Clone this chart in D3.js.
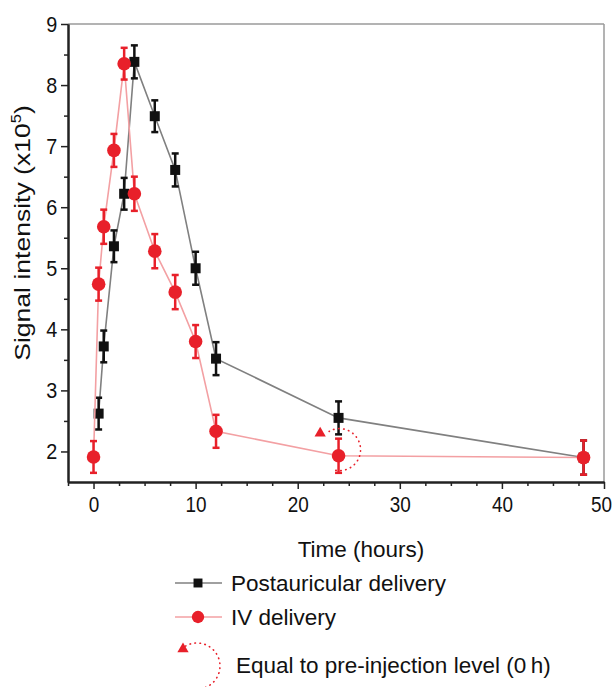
<!DOCTYPE html>
<html>
<head>
<meta charset="utf-8">
<script src="https://cdn.jsdelivr.net/npm/d3@7"></script>
<style>
    html, body { margin: 0; padding: 0; background: #fff; }
    svg { display: block; font-family: "Liberation Sans", Arial, sans-serif; }
    .tick text { fill: #111; }
</style>
</head>
<body>
<div id="chart"></div>
<script>
// time points (hours)
var postTimes = [0.5, 1, 2, 3, 4, 6, 8, 10, 12, 24, 48],
    postValues = [2.62, 3.72, 5.36, 6.22, 8.38, 7.49, 6.61, 5.0, 3.52, 2.55, 1.9],
    postErrors = [0.26, 0.26, 0.26, 0.26, 0.27, 0.26, 0.27, 0.27, 0.27, 0.27, 0.28];

var ivTimes = [0, 0.5, 1, 2, 3, 4, 6, 8, 10, 12, 24, 48],
    ivValues = [1.91, 4.74, 5.68, 6.93, 8.35, 6.22, 5.28, 4.61, 3.8, 2.33, 1.93, 1.9],
    ivErrors = [0.26, 0.27, 0.28, 0.27, 0.26, 0.28, 0.28, 0.28, 0.27, 0.27, 0.28, 0.28];

var xMajorTicks = [0, 10, 20, 30, 40, 50],
    xMinorTicks = [-2.5, 2.5, 5, 7.5, 12.5, 15, 17.5, 22.5, 25, 27.5, 32.5, 35, 37.5, 42.5, 45, 47.5],
    yMajorTicks = [2, 3, 4, 5, 6, 7, 8, 9],
    yMinorTicks = [2.5, 3.5, 4.5, 5.5, 6.5, 7.5, 8.5];

// annotation: point at 24 h equal to pre-injection level
var noteMarker = {x: 22.2, y: 2.3},
    noteCircle = {x: 24.1, y: 2.03};

var legendItems = ['Postauricular delivery', 'IV delivery'],
    noteLabel = 'Equal to pre-injection level (0\u2009h)';

var W = 614, H = 687,
    red = '#e8202a';

var svg = d3.select('#chart').append('svg')
    .attr('width', W)
    .attr('height', H);

var x = d3.scaleLinear().domain([-2.5, 50]).range([68, 604]),
    y = d3.scaleLinear().domain([1.5, 9]).range([482, 24]);

var zip = function(ts, vs, es) {
    return ts.map(function(t, i) { return {t: t, v: vs[i], e: es[i]}; });
};
var post = zip(postTimes, postValues, postErrors),
    iv = zip(ivTimes, ivValues, ivErrors);

// frame (top and right in grey)
svg.append('line')
    .attr('x1', x(-2.5)).attr('x2', x(50))
    .attr('y1', y(9)).attr('y2', y(9))
    .attr('stroke', '#9a9a9a').attr('stroke-width', 1.5);
svg.append('line')
    .attr('x1', x(50)).attr('x2', x(50))
    .attr('y1', y(9)).attr('y2', y(1.5))
    .attr('stroke', '#9a9a9a').attr('stroke-width', 1.5);

// axes
var xx = svg.append('g')
    .attr('transform', 'translate(0,' + y(1.5) + ')')
    .call(d3.axisBottom(x).tickValues(xMajorTicks).tickSize(7).tickSizeOuter(0).tickPadding(7));
svg.append('g')
    .attr('transform', 'translate(0,' + y(1.5) + ')')
    .call(d3.axisBottom(x).tickValues(xMinorTicks).tickSize(4).tickSizeOuter(0).tickFormat(''));
var yy = svg.append('g')
    .attr('transform', 'translate(' + x(-2.5) + ',0)')
    .call(d3.axisLeft(y).tickValues(yMajorTicks).tickSize(7).tickSizeOuter(0).tickPadding(5));
svg.append('g')
    .attr('transform', 'translate(' + x(-2.5) + ',0)')
    .call(d3.axisLeft(y).tickValues(yMinorTicks).tickSize(4).tickSizeOuter(0).tickFormat(''));

svg.selectAll('.domain').attr('stroke', '#222').attr('stroke-width', 2);
svg.selectAll('.tick line').attr('stroke', '#222').attr('stroke-width', 1.5);
// the original uses a narrow face for the tick numbers
xx.selectAll('text')
    .style('font-size', '22px')
    .attr('transform', function(d) { return d === 50 ? 'translate(-3,0) scale(0.86,1)' : 'scale(0.86,1)'; });
yy.selectAll('text')
    .style('font-size', '22px')
    .attr('transform', 'scale(0.9,1)');

// axis titles
svg.append('text')
    .attr('x', 361)
    .attr('y', 557)
    .attr('text-anchor', 'middle')
    .style('font-size', '22.5px')
    .attr('fill', '#111')
    .text('Time (hours)');

var yt = svg.append('text')
    .attr('transform', 'translate(30,233) rotate(-90) scale(1.18,1)')
    .attr('text-anchor', 'middle')
    .style('font-size', '22.5px')
    .attr('fill', '#111');
yt.append('tspan').text('Signal intensity (x10');
yt.append('tspan').attr('dy', -9).style('font-size', '14px').text('5');
yt.append('tspan').attr('dy', 9).text(')');

// series
var line = d3.line()
    .x(function(d) { return x(d.t); })
    .y(function(d) { return y(d.v); });

var drawSeries = function(data, lineColor, color, marker) {
    var g = svg.append('g');

    g.append('path')
        .datum(data)
        .attr('fill', 'none')
        .attr('stroke', lineColor)
        .attr('stroke-width', 1.6)
        .attr('d', line);

    var eb = g.selectAll('.eb')
        .data(data)
        .enter()
        .append('g')
        .attr('stroke', color)
        .attr('stroke-width', 2.5);
    eb.append('line')
        .attr('x1', function(d) { return x(d.t); })
        .attr('x2', function(d) { return x(d.t); })
        .attr('y1', function(d) { return y(d.v + d.e); })
        .attr('y2', function(d) { return y(d.v - d.e); });
    [1, -1].forEach(function(s) {
        eb.append('line')
            .attr('x1', function(d) { return x(d.t) - 3.5; })
            .attr('x2', function(d) { return x(d.t) + 3.5; })
            .attr('y1', function(d) { return y(d.v + s * d.e); })
            .attr('y2', function(d) { return y(d.v + s * d.e); });
    });

    g.selectAll('.mk')
        .data(data)
        .enter()
        .append('path')
        .attr('fill', color)
        .attr('transform', function(d) { return 'translate(' + x(d.t) + ',' + y(d.v) + ')'; })
        .attr('d', marker);
};

drawSeries(post, '#808080', '#111', d3.symbol(d3.symbolSquare, 100));
drawSeries(iv, '#f3a0a3', red, d3.symbol(d3.symbolCircle, 145));

// dotted partial circle
var dottedArc = function(cx, cy, r, a0, a1) {
    var p = d3.path();
    p.arc(cx, cy, r, a0 * Math.PI / 180, a1 * Math.PI / 180);
    return p.toString();
};

var drawNote = function(g, tx, ty, cx, cy, r) {
    g.append('path')
        .attr('d', d3.symbol(d3.symbolTriangle, 55)())
        .attr('transform', 'translate(' + tx + ',' + ty + ')')
        .attr('fill', red);
    g.append('path')
        .attr('d', dottedArc(cx, cy, r, -120, 108))
        .attr('fill', 'none')
        .attr('stroke', red)
        .attr('stroke-width', 1.6)
        .attr('stroke-linecap', 'round')
        .attr('stroke-dasharray', '0.5,4.5');
};

drawNote(svg.append('g'), x(noteMarker.x), y(noteMarker.y), x(noteCircle.x), y(noteCircle.y), 21);

// legend
var legend = svg.append('g');
var legendRows = [
    {label: legendItems[0], y: 583, lineColor: '#808080', color: '#111', marker: d3.symbol(d3.symbolSquare, 80)},
    {label: legendItems[1], y: 617, lineColor: '#f3a0a3', color: red, marker: d3.symbol(d3.symbolCircle, 120)}
];
legendRows.forEach(function(r) {
    legend.append('line')
        .attr('x1', 175).attr('x2', 222)
        .attr('y1', r.y).attr('y2', r.y)
        .attr('stroke', r.lineColor)
        .attr('stroke-width', 1.6);
    legend.append('path')
        .attr('d', r.marker())
        .attr('transform', 'translate(198,' + r.y + ')')
        .attr('fill', r.color);
    legend.append('text')
        .attr('x', 231)
        .attr('y', r.y + 8)
        .style('font-size', '22.5px')
        .attr('fill', '#111')
        .text(r.label);
});
drawNote(legend, 183, 649, 197, 666, 23);
legend.append('text')
    .attr('x', 236)
    .attr('y', 673)
    .style('font-size', '22.5px')
    .attr('fill', '#111')
    .text(noteLabel);
</script>
</body>
</html>
